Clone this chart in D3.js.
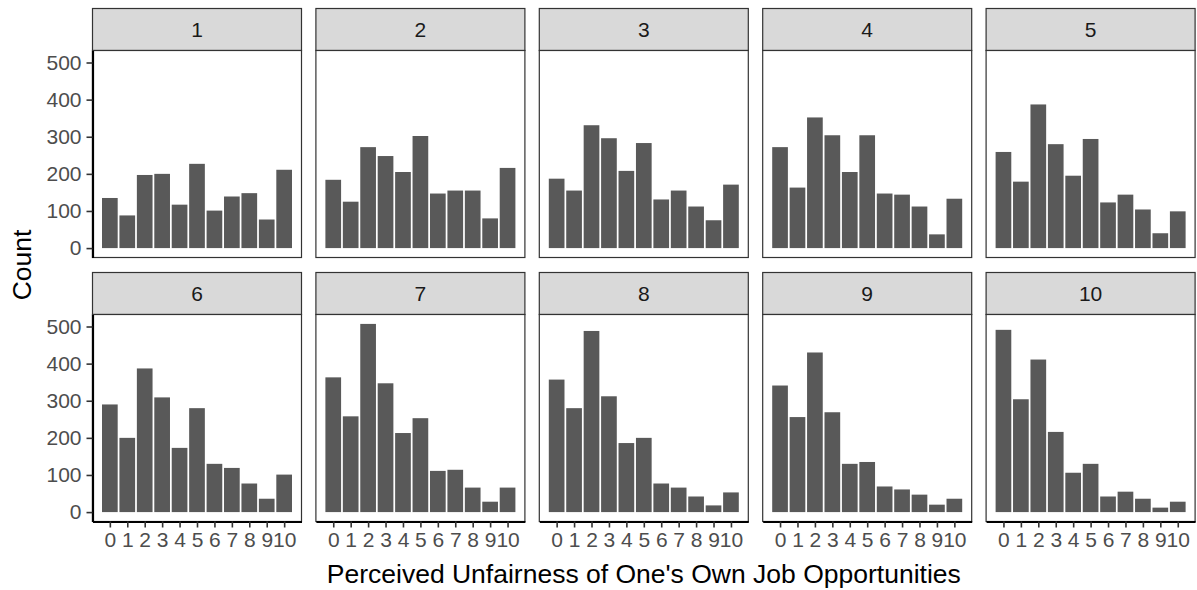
<!DOCTYPE html>
<html>
<head>
<meta charset="utf-8">
<script src="https://cdn.jsdelivr.net/npm/d3@7"></script>
<style>
  body { margin: 0; background: #fff; }
  svg { display: block; }
  text { font-family: "Liberation Sans", Arial, Helvetica, sans-serif; }
</style>
</head>
<body>
<svg id="chart" width="1197" height="590"></svg>
<script>
// Answer scale (0-10) shown on each panel's x axis
const scores = [0, 1, 2, 3, 4, 5, 6, 7, 8, 9, 10];
// Facet labels
const groups = ["1", "2", "3", "4", "5", "6", "7", "8", "9", "10"];
// Counts per score, one array per facet
const counts1  = [135,  88, 197, 200, 117, 227, 101, 139, 148, 77, 211];
const counts2  = [184, 125, 272, 248, 205, 302, 147, 155, 155, 80, 216];
const counts3  = [187, 155, 331, 296, 208, 283, 131, 155, 112, 75, 171];
const counts4  = [272, 163, 352, 304, 205, 304, 147, 144, 112, 37, 133];
const counts5  = [259, 179, 387, 280, 195, 294, 123, 144, 104, 40,  99];
const counts6  = [290, 200, 387, 309, 173, 280, 130, 119,  77, 36, 101];
const counts7  = [363, 258, 507, 347, 213, 253, 111, 114,  66, 28,  66];
const counts8  = [357, 280, 488, 312, 186, 200,  77,  66,  42, 18,  53];
const counts9  = [341, 256, 430, 269, 130, 135,  69,  61,  47, 20,  36];
const counts10 = [491, 304, 411, 216, 106, 130,  42,  55,  36, 12,  28];
const countsByGroup = [counts1, counts2, counts3, counts4, counts5,
                       counts6, counts7, counts8, counts9, counts10];
const yTicks = [0, 100, 200, 300, 400, 500];
const xTitle = "Perceived Unfairness of One's Own Job Opportunities";
const yTitle = "Count";

// Layout
const svg = d3.select("#chart");
const nCol = 5;
const panelLeft = 92.5, panelStep = 223.4, panelW = 209;
const rowTop = [8.5, 272.5];
const stripH = 42, panelH = 207;
const barW = 0.9;

// Continuous x with 5% expansion around the bar extents
const xLo = d3.min(scores) - barW / 2, xHi = d3.max(scores) + barW / 2;
const xPad = (xHi - xLo) * 0.05;
const x = d3.scaleLinear().domain([xLo - xPad, xHi + xPad]).range([0, panelW]);

const yMax = d3.max(countsByGroup, a => d3.max(a));
const yPad = yMax * 0.05;
const y = d3.scaleLinear().domain([-yPad, yMax + yPad]).range([panelH, 0]);

const axisTextColor = "#4D4D4D";
const fontAxis = 21;

groups.forEach((g, i) => {
  const col = i % nCol, row = Math.floor(i / nCol);
  const px = panelLeft + col * panelStep;
  const sy = rowTop[row];
  const py = sy + stripH;

  // strip
  const strip = svg.append("g").attr("transform", `translate(${px},${sy})`);
  strip.append("rect")
    .attr("width", panelW).attr("height", stripH)
    .attr("fill", "#D9D9D9").attr("stroke", "#333333").attr("stroke-width", 1.2);
  strip.append("text")
    .attr("x", panelW / 2).attr("y", stripH / 2).attr("dy", "0.35em")
    .attr("text-anchor", "middle").attr("fill", "#1A1A1A")
    .attr("font-size", fontAxis).text(g);

  // panel
  const p = svg.append("g").attr("transform", `translate(${px},${py})`);
  p.append("rect").attr("width", panelW).attr("height", panelH).attr("fill", "#fff");

  const data = scores.map((s, k) => ({ s, v: countsByGroup[i][k] }));
  p.selectAll("rect.bar").data(data).join("rect")
    .attr("class", "bar")
    .attr("x", d => x(d.s - barW / 2))
    .attr("width", d => x(d.s + barW / 2) - x(d.s - barW / 2))
    .attr("y", d => y(d.v))
    .attr("height", d => y(0) - y(d.v))
    .attr("fill", "#595959");

  p.append("rect").attr("width", panelW).attr("height", panelH)
    .attr("fill", "none").attr("stroke", "#333333").attr("stroke-width", 1.2);

  if (col === 0) {
    const ay = p.append("g")
      .call(d3.axisLeft(y).tickValues(yTicks).tickSize(6).tickSizeOuter(0).tickPadding(5));
    ay.select(".domain").attr("stroke", "#000").attr("stroke-width", 2.2);
    ay.selectAll(".tick line").attr("stroke", "#333").attr("stroke-width", 1.6);
    ay.selectAll(".tick text").attr("fill", axisTextColor)
      .attr("font-size", fontAxis).attr("font-family", null);
  }
  if (row === 1) {
    const ax = p.append("g").attr("transform", `translate(0,${panelH})`)
      .call(d3.axisBottom(x).tickValues(scores).tickFormat(d3.format("d"))
        .tickSize(6).tickSizeOuter(0).tickPadding(5));
    ax.select(".domain").attr("stroke", "#000").attr("stroke-width", 2.2);
    ax.selectAll(".tick line").attr("stroke", "#333").attr("stroke-width", 1.6);
    ax.selectAll(".tick text").attr("fill", axisTextColor)
      .attr("font-size", fontAxis).attr("font-family", null);
  }
});

// axis titles
const plotLeft = panelLeft, plotRight = panelLeft + 4 * panelStep + panelW;
svg.append("text")
  .attr("x", (plotLeft + plotRight) / 2).attr("y", 574).attr("dy", "0.35em")
  .attr("text-anchor", "middle").attr("fill", "#000").attr("font-size", 26.5)
  .text(xTitle);
svg.append("text")
  .attr("transform", `translate(22,${(rowTop[0] + rowTop[1] + stripH + panelH) / 2}) rotate(-90)`)
  .attr("dy", "0.35em")
  .attr("text-anchor", "middle").attr("fill", "#000").attr("font-size", 26.5)
  .text(yTitle);
</script>
</body>
</html>
